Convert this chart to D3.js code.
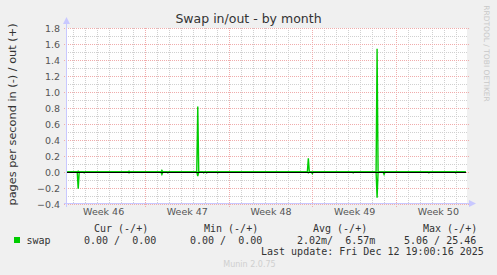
<!DOCTYPE html>
<html>
<head>
<meta charset="utf-8">
<script src="https://cdn.jsdelivr.net/npm/d3@7"></script>
<style>
  html, body { margin: 0; padding: 0; background: #f0f0f0; }
  svg { display: block; }
  text { font-family: "DejaVu Sans", sans-serif; }
  .mono { font-family: "DejaVu Sans Mono", monospace; font-size: 10px; fill: #333; }
</style>
</head>
<body>
<svg id="chart" width="497" height="275"></svg>
<script>
// 2 hour samples (UTC), only the ones around activity; zero elsewhere
const sampleTimes = [
  "2025-11-09T12:00", "2025-11-10T08:00", "2025-11-10T10:00", "2025-11-10T12:00",
  "2025-11-10T20:00", "2025-11-10T22:00", "2025-11-11T00:00",
  "2025-11-14T14:00", "2025-11-14T16:00", "2025-11-14T18:00",
  "2025-11-17T08:00", "2025-11-17T10:00", "2025-11-17T12:00",
  "2025-11-17T20:00", "2025-11-17T22:00", "2025-11-18T00:00",
  "2025-11-20T08:00", "2025-11-20T10:00", "2025-11-20T12:00",
  "2025-11-20T20:00", "2025-11-20T22:00", "2025-11-21T00:00",
  "2025-11-21T02:00", "2025-11-21T04:00", "2025-11-21T06:00",
  "2025-11-22T00:00", "2025-11-22T02:00", "2025-11-22T04:00",
  "2025-11-29T14:00", "2025-11-29T16:00", "2025-11-29T18:00",
  "2025-11-29T22:00", "2025-11-30T00:00", "2025-11-30T02:00",
  "2025-12-03T08:00", "2025-12-03T10:00", "2025-12-03T12:00",
  "2025-12-05T08:00", "2025-12-05T10:00", "2025-12-05T12:00",
  "2025-12-05T22:00", "2025-12-06T00:00", "2025-12-06T02:00",
  "2025-12-09T16:00", "2025-12-09T18:00", "2025-12-09T20:00",
  "2025-12-11T22:00", "2025-12-12T00:00", "2025-12-12T02:00",
  "2025-12-12T20:00"
];
// pages/s swapped out (+)
const swapOut = [
  0, 0, 0.01, 0,
  0, 0, 0,
  0, 0.01, 0,
  0, 0.02, 0,
  0, 0, 0,
  0, 0.82, 0,
  0, 0, 0,
  0, 0, 0,
  0, 0, 0,
  0, 0.17, 0,
  0, 0, 0,
  0, 0, 0,
  0, 1.54, 0,
  0, 0, 0,
  0, 0, 0,
  0, 0, 0,
  0
];
// pages/s swapped in (-), drawn below zero
const swapIn = [
  0, 0, 0.21, 0,
  0, 0.01, 0,
  0, 0.01, 0,
  0, 0.03, 0,
  0, 0.01, 0,
  0, 0.05, 0,
  0, 0.01, 0,
  0, 0.01, 0,
  0, 0.01, 0,
  0, 0.01, 0,
  0, 0.02, 0,
  0, 0.01, 0,
  0, 0.32, 0,
  0, 0.03, 0,
  0, 0.01, 0,
  0, 0.01, 0,
  0
];
const yTicks = [-0.4, -0.2, 0.0, 0.2, 0.4, 0.6, 0.8, 1.0, 1.2, 1.4, 1.6, 1.8];
const yMinor = [-0.3, -0.1, 0.1, 0.3, 0.5, 0.7, 0.9, 1.1, 1.3, 1.5, 1.7];
const legendHead = ["Cur (-/+)", "Min (-/+)", "Avg (-/+)", "Max (-/+)"];
const legendVals = ["0.00 /  0.00", "0.00 /  0.00", "2.02m/  6.57m", "5.06 / 25.46"];
const timeStart = new Date(Date.UTC(2025, 10, 9, 11, 30));
const timeEnd = new Date(Date.UTC(2025, 11, 12, 22, 30));

const svg = d3.select("#chart");
const plot = { left: 67, right: 467, top: 28, bottom: 204 };

const x = d3.scaleUtc().domain([timeStart, timeEnd]).range([plot.left, plot.right]);
const y = d3.scaleLinear().domain([-0.4, 1.8]).range([plot.bottom, plot.top]);
const px = v => Math.round(v) + 0.5;

svg.append("rect")
  .attr("x", plot.left).attr("y", plot.top)
  .attr("width", plot.right - plot.left).attr("height", plot.bottom - plot.top)
  .attr("fill", "#fff");

// dotted lines as single pixels, so every dot lands on a whole pixel
function dotsV(xp, y0, y1) {
  let d = "";
  for (let yy = y0; yy <= y1; yy += 2) d += `M${xp},${yy}h1v1h-1z`;
  return d;
}
function dotsH(yp, x0, x1) {
  let d = "";
  for (let xx = x0; xx <= x1; xx += 2) d += `M${xx},${yp}h1v1h-1z`;
  return d;
}

const grid = svg.append("g").attr("shape-rendering", "crispEdges");
const weeks = d3.utcSunday.range(timeStart, timeEnd);
const days = d3.utcDay.range(timeStart, timeEnd).filter(d => d.getUTCDay() !== 0);
const minorCol = "#d0d0d0", majorCol = "#f0acac";

grid.append("path").attr("fill", minorCol)
  .attr("d", days.map(d => dotsV(Math.round(x(d)), plot.top, plot.bottom - 1)).join("")
    + yMinor.map(v => dotsH(Math.round(y(v)), plot.left + 1, plot.right - 1)).join(""));
grid.append("path").attr("fill", majorCol)
  .attr("d", weeks.map(d => dotsV(Math.round(x(d)), plot.top, plot.bottom + 2)).join("")
    + yTicks.map(v => dotsH(Math.round(y(v)), plot.left - 3, plot.right + 1)).join(""));

// axes labels
const yAxis = d3.axisLeft(y).tickValues(yTicks).tickFormat(d3.format(".1f")).tickSize(0).tickPadding(7);
svg.append("g").attr("transform", `translate(${plot.left},0)`).call(yAxis)
  .call(g => g.select(".domain").remove())
  .selectAll("text").attr("font-size", 9.5).attr("fill", "#555").attr("font-family", "DejaVu Sans");

const weekMid = weeks.map(d => d3.utcHour.offset(d, -84)).concat([d3.utcHour.offset(weeks[weeks.length - 1], 84)]);
const xAxis = d3.axisBottom(x)
  .tickValues(weekMid.filter(d => d >= timeStart && d <= timeEnd))
  .tickFormat(d3.utcFormat("Week %V")).tickSize(0).tickPadding(4);
svg.append("g").attr("transform", `translate(0,${plot.bottom})`).call(xAxis)
  .call(g => g.select(".domain").remove())
  .selectAll("text").attr("font-size", 9.5).attr("fill", "#555").attr("font-family", "DejaVu Sans");

// data
const rows = sampleTimes.map((t, i) => ({ t: new Date(t + "Z"), out: swapOut[i], inn: swapIn[i] }));
const lineOut = d3.line().x(d => x(d.t)).y(d => y(d.out));
const lineIn = d3.line().x(d => x(d.t)).y(d => y(-d.inn));
svg.append("path").datum(rows).attr("d", lineIn).attr("fill", "none").attr("stroke", "#00cc00").attr("stroke-width", 1.4);
svg.append("path").datum(rows).attr("d", lineOut).attr("fill", "none").attr("stroke", "#00cc00").attr("stroke-width", 1.4);

svg.append("line").attr("shape-rendering", "crispEdges")
  .attr("x1", plot.left).attr("x2", plot.right - 1)
  .attr("y1", px(y(0))).attr("y2", px(y(0)))
  .attr("stroke", "#000");

// axis frame with arrows
const axisCol = "#c8c8ff";
svg.append("line").attr("shape-rendering", "crispEdges")
  .attr("x1", plot.left - 0.5).attr("x2", plot.left - 0.5)
  .attr("y1", plot.bottom + 3).attr("y2", plot.top - 6).attr("stroke", axisCol);
svg.append("line").attr("shape-rendering", "crispEdges")
  .attr("x1", plot.left - 3).attr("x2", plot.right + 4)
  .attr("y1", plot.bottom - 0.5).attr("y2", plot.bottom - 0.5).attr("stroke", axisCol);
svg.append("path").attr("fill", axisCol)
  .attr("d", `M${plot.left - 4},${plot.top - 4}L${plot.left + 3},${plot.top - 4}L${plot.left - 0.5},${plot.top - 11}Z`);
svg.append("path").attr("fill", axisCol)
  .attr("d", `M${plot.right + 2},${plot.bottom - 4}L${plot.right + 2},${plot.bottom + 3}L${plot.right + 9},${plot.bottom - 0.5}Z`);

// titles
svg.append("text").attr("x", 248.5).attr("y", 23).attr("text-anchor", "middle")
  .attr("font-size", 12.5).attr("fill", "#333").text("Swap in/out - by month");
svg.append("text").attr("transform", "translate(16,114.5) rotate(-90)").attr("text-anchor", "middle")
  .attr("font-size", 11.3).attr("fill", "#333").text("pages per second in (-) / out (+)");
svg.append("text").attr("transform", "translate(484,53.5) rotate(90)").attr("text-anchor", "middle")
  .attr("font-size", 7.5).attr("fill", "#c8c8c8").text("RRDTOOL / TOBI OETIKER");

// legend
const headX = [94, 204, 313, 423];
const valX = [84, 190, 297, 404];
svg.selectAll("text.head").data(legendHead).join("text").attr("class", "mono head")
  .attr("x", (d, i) => headX[i]).attr("y", 231.5).style("white-space", "pre").text(d => d);
svg.append("rect").attr("x", 14).attr("y", 237).attr("width", 6).attr("height", 6).attr("fill", "#00cc00");
svg.append("text").attr("class", "mono").attr("x", 26.5).attr("y", 243.5).text("swap");
svg.selectAll("text.val").data(legendVals).join("text").attr("class", "mono val")
  .attr("x", (d, i) => valX[i]).attr("y", 243.5).style("white-space", "pre").text(d => d);
svg.append("text").attr("class", "mono").attr("x", 261).attr("y", 255).style("white-space", "pre")
  .text("Last update: Fri Dec 12 19:00:16 2025");
svg.append("text").attr("x", 249.5).attr("y", 267).attr("text-anchor", "middle")
  .attr("font-size", 8).attr("fill", "#cfcfcf").text("Munin 2.0.75");
</script>
</body>
</html>
